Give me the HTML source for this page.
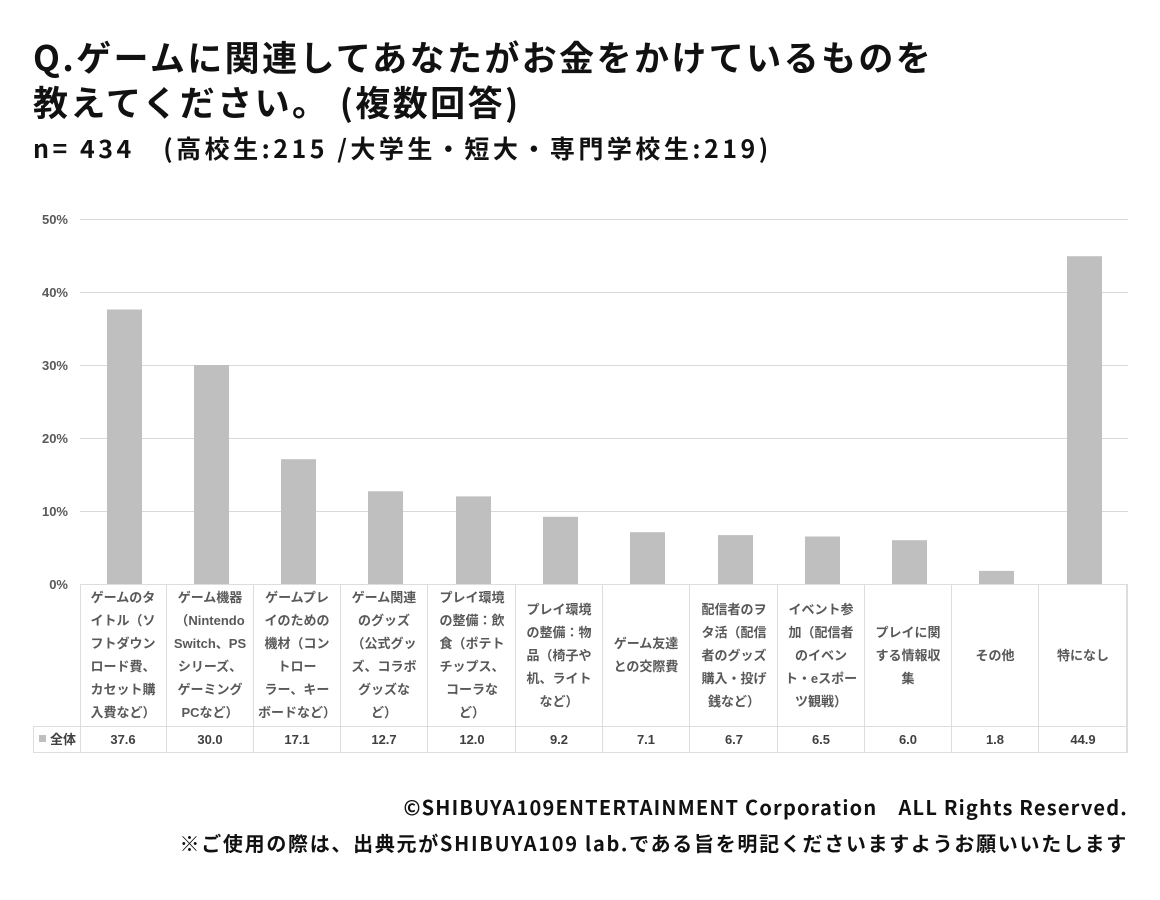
<!DOCTYPE html>
<html><head><meta charset="utf-8"><style>
body{margin:0;width:1160px;height:900px;background:#fff;font-family:"Liberation Sans","Noto Sans CJK JP",sans-serif;position:relative;overflow:hidden}
.t{position:absolute;left:33px;font-weight:bold;color:#111;white-space:nowrap;font-family:"Noto Sans CJK JP",sans-serif}
.c{position:absolute;top:584px;height:142px;width:87px;display:flex;align-items:center;justify-content:center;text-align:center;font-size:13px;font-weight:bold;color:#595959;line-height:23px;border-right:1px solid #ddd;box-sizing:border-box}
.v{position:absolute;top:726px;height:26px;width:87px;display:flex;align-items:center;justify-content:center;font-size:13px;font-weight:bold;color:#404040;border-right:1px solid #ddd;box-sizing:border-box}
.f{position:absolute;right:32px;font-size:20px;line-height:24px;font-weight:bold;color:#111;white-space:nowrap;font-family:"Noto Sans CJK JP",sans-serif}
</style></head><body>
<div class="t" style="top:34px;font-size:35px;line-height:45px;letter-spacing:2.4px">Q.ゲームに関連してあなたがお金をかけているものを<br>教えてください。 (複数回答)</div>
<div class="t" style="top:132px;font-size:25px;line-height:32px;letter-spacing:3.5px">n= 434　(高校生:215 /大学生・短大・専門学校生:219)</div>
<svg style="position:absolute;left:0;top:0" width="1160" height="900">
<g stroke="#d9d9d9" stroke-width="1">
<line x1="80" x2="1128" y1="219.5" y2="219.5"/><line x1="80" x2="1128" y1="292.5" y2="292.5"/><line x1="80" x2="1128" y1="365.5" y2="365.5"/><line x1="80" x2="1128" y1="438.5" y2="438.5"/><line x1="80" x2="1128" y1="511.5" y2="511.5"/>
</g>
<g font-size="13" font-weight="bold" fill="#595959" text-anchor="end">
<text x="68" y="224">50%</text><text x="68" y="297">40%</text><text x="68" y="370">30%</text><text x="68" y="443">20%</text><text x="68" y="516">10%</text><text x="68" y="589">0%</text>
</g>
<g fill="#bfbfbf">
<rect x="107" y="309.5" width="35" height="274.5"/>
<rect x="194" y="365" width="35" height="219"/>
<rect x="281" y="459.2" width="35" height="124.8"/>
<rect x="368" y="491.3" width="35" height="92.7"/>
<rect x="456" y="496.4" width="35" height="87.6"/>
<rect x="543" y="516.8" width="35" height="67.2"/>
<rect x="630" y="532.2" width="35" height="51.8"/>
<rect x="718" y="535.1" width="35" height="48.9"/>
<rect x="805" y="536.5" width="35" height="47.5"/>
<rect x="892" y="540.2" width="35" height="43.8"/>
<rect x="979" y="570.9" width="35" height="13.1"/>
<rect x="1067" y="256.2" width="35" height="327.8"/>
</g>
<g stroke="#ddd" fill="none"><rect x="80.5" y="584.5" width="1047" height="142"/><rect x="33.5" y="726.5" width="1094" height="26"/><line x1="80.5" x2="80.5" y1="726" y2="753"/></g>
<rect x="39" y="735" width="7" height="7" fill="#bfbfbf"/>
<text x="50" y="744" font-size="13" font-weight="bold" fill="#404040">全体</text>
</svg>
<div class="c" style="left:80px">ゲームのタ<br>イトル（ソ<br>フトダウン<br>ロード費、<br>カセット購<br>入費など）</div>
<div class="c" style="left:167px">ゲーム機器<br>（Nintendo<br>Switch、PS<br>シリーズ、<br>ゲーミング<br>PCなど）</div>
<div class="c" style="left:254px">ゲームプレ<br>イのための<br>機材（コン<br>トロー<br>ラー、キー<br>ボードなど）</div>
<div class="c" style="left:341px">ゲーム関連<br>のグッズ<br>（公式グッ<br>ズ、コラボ<br>グッズな<br>ど）</div>
<div class="c" style="left:429px">プレイ環境<br>の整備：飲<br>食（ポテト<br>チップス、<br>コーラな<br>ど）</div>
<div class="c" style="left:516px">プレイ環境<br>の整備：物<br>品（椅子や<br>机、ライト<br>など）</div>
<div class="c" style="left:603px">ゲーム友達<br>との交際費</div>
<div class="c" style="left:691px">配信者のヲ<br>タ活（配信<br>者のグッズ<br>購入・投げ<br>銭など）</div>
<div class="c" style="left:778px">イベント参<br>加（配信者<br>のイベン<br>ト・eスポー<br>ツ観戦）</div>
<div class="c" style="left:865px">プレイに関<br>する情報収<br>集</div>
<div class="c" style="left:952px">その他</div>
<div class="c" style="left:1040px">特になし</div>
<div class="v" style="left:80px">37.6</div><div class="v" style="left:167px">30.0</div><div class="v" style="left:254px">17.1</div><div class="v" style="left:341px">12.7</div><div class="v" style="left:429px">12.0</div><div class="v" style="left:516px">9.2</div><div class="v" style="left:603px">7.1</div><div class="v" style="left:691px">6.7</div><div class="v" style="left:778px">6.5</div><div class="v" style="left:865px">6.0</div><div class="v" style="left:952px">1.8</div><div class="v" style="left:1040px">44.9</div>
<div class="f" style="top:795px;letter-spacing:1.2px">©SHIBUYA109ENTERTAINMENT Corporation　ALL Rights Reserved.</div>
<div class="f" style="top:831px;letter-spacing:1.7px">※ご使用の際は、出典元がSHIBUYA109 lab.である旨を明記くださいますようお願いいたします</div>
</body></html>
